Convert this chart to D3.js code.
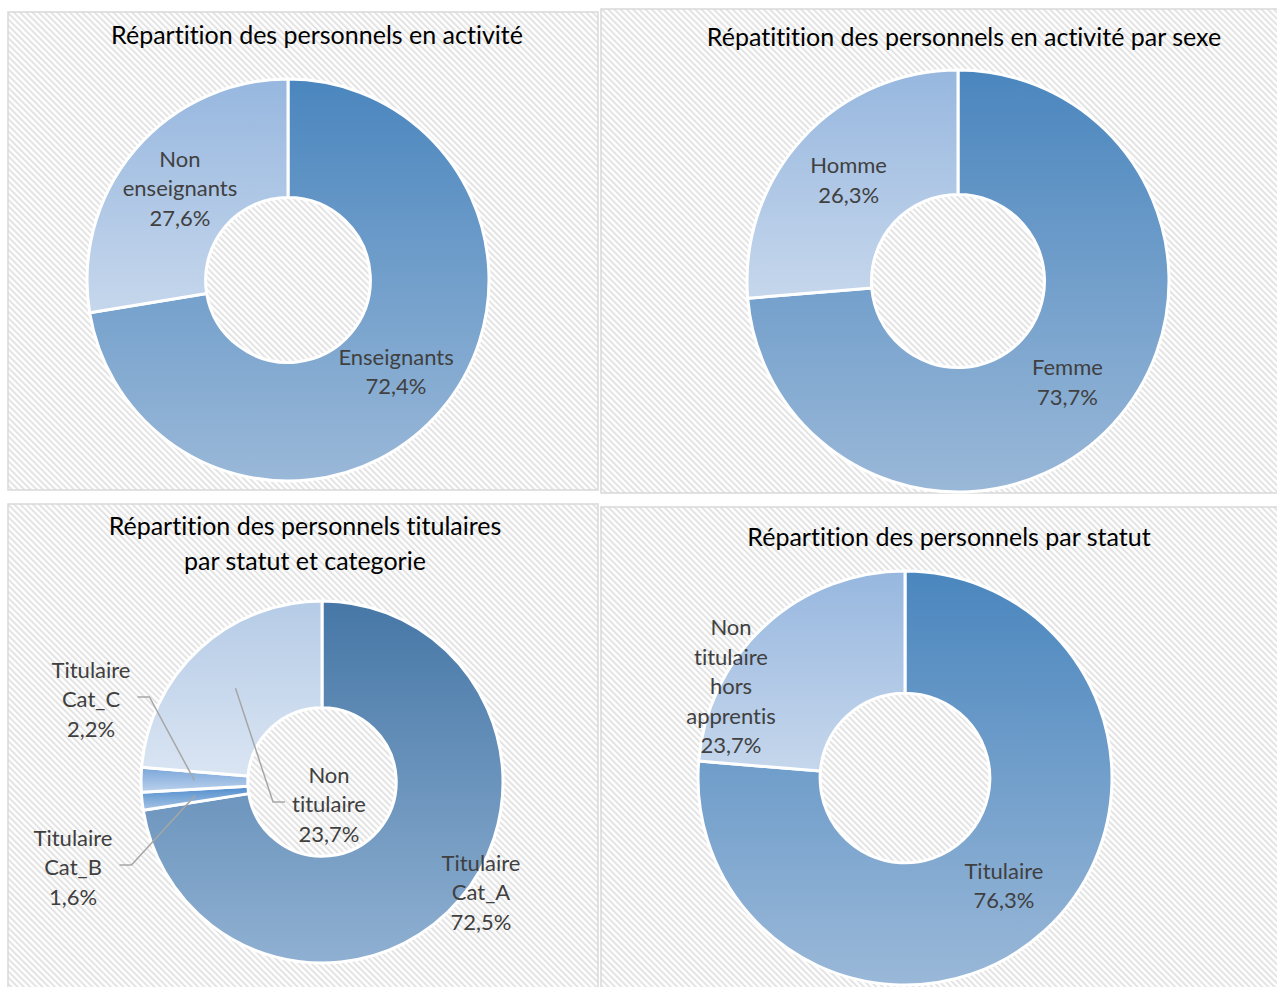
<!DOCTYPE html>
<html>
<head>
<meta charset="utf-8">
<script src="https://cdn.jsdelivr.net/npm/d3@7"></script>
<style>
  body { margin: 0; background: #fff; }
  svg { display: block; font-family: Lato, "Open Sans", sans-serif; font-variant-ligatures: none; }
</style>
</head>
<body>
<div id="chart"></div>
<script>
// Répartition des personnels - 4 donuts

// Data (percentages)
const activiteLabels = ["Enseignants", "Non enseignants"];
const activiteValues = [72.4, 27.6];

const sexeLabels = ["Femme", "Homme"];
const sexeValues = [73.7, 26.3];

const categorieLabels = ["Titulaire Cat_A", "Titulaire Cat_B", "Titulaire Cat_C", "Non titulaire"];
const categorieValues = [72.5, 1.6, 2.2, 23.7];

const statutLabels = ["Titulaire", "Non titulaire hors apprentis"];
const statutValues = [76.3, 23.7];

// Gradient colours (top, bottom) used for slices
const darkBlue = ["#4a86be", "#9ab8d8"];
const lightBlue = ["#97b7df", "#c6d7ec"];

const fr = d3.formatLocale({decimal: ",", thousands: " ", grouping: [3], currency: ["", " €"]});
const pct = v => fr.format(".1f")(v) + "%";

const width = 1277;
const height = 987;

// Layout of each panel
const charts = [
  {
    title: ["Répartition des personnels en activité"],
    labels: activiteLabels, values: activiteValues,
    box: [8, 12, 590, 478], titleX: 317, titleY: 44,
    cx: 288, cy: 280, r: 201,
    colors: [darkBlue, lightBlue]
  },
  {
    title: ["Répatitition des personnels en activité par sexe"],
    labels: sexeLabels, values: sexeValues,
    box: [601, 9, 680, 484], titleX: 964, titleY: 46,
    cx: 958, cy: 281, r: 211,
    colors: [darkBlue, lightBlue]
  },
  {
    title: ["Répartition des personnels titulaires", "par statut et categorie"],
    labels: categorieLabels, values: categorieValues,
    box: [8, 504, 590, 490], titleX: 305, titleY: 535,
    cx: 322, cy: 782, r: 181,
    colors: [["#4677a6", "#8fb0d2"], ["#4d8bcb", "#a9c6e6"], ["#79a5d9", "#bcd2ec"], ["#b5cbe6", "#dae5f3"]],
    // label offsets from donut centre (Excel "best fit" positions), with leader lines
    labelOffsets: [[159, 110], [-249, 85], [-231, -83], [7, 22]],
    leaders: [false, true, true, true]
  },
  {
    title: ["Répartition des personnels par statut"],
    labels: statutLabels, values: statutValues,
    box: [601, 507, 680, 490], titleX: 949, titleY: 546,
    cx: 905, cy: 778, r: 207,
    colors: [darkBlue, lightBlue],
    labelOffsets: [null, [-174, -92]]
  }
];

const svg = d3.select("#chart")
  .append("svg")
  .attr("width", width)
  .attr("height", height);

const defs = svg.append("defs");

// Diagonal hatch background
const pat = defs.append("pattern")
  .attr("id", "hatch")
  .attr("patternUnits", "userSpaceOnUse")
  .attr("width", 4.4)
  .attr("height", 4.4)
  .attr("patternTransform", "rotate(-45)");
pat.append("rect").attr("width", 4.4).attr("height", 4.4).attr("fill", "#ffffff");
pat.append("rect").attr("width", 2).attr("height", 4.4).attr("fill", "#e3e3e3");

const pie = d3.pie().sort(null).value(d => d.value);
const fontSize = 22;
const lineH = 29.5;

// simple word wrap on measured widths
const measurer = svg.append("text").attr("font-size", fontSize).attr("visibility", "hidden");
function textWidth(s) {
  measurer.text(s);
  return measurer.node().getComputedTextLength();
}
function wrap(s, maxW) {
  const words = s.split(" ");
  const lines = [];
  let cur = words[0];
  for (let i = 1; i < words.length; i++) {
    const test = cur + " " + words[i];
    if (textWidth(test) > maxW) { lines.push(cur); cur = words[i]; }
    else cur = test;
  }
  lines.push(cur);
  return lines;
}

charts.forEach((c, ci) => {
  const g = svg.append("g");

  // panel frame
  g.append("rect")
    .attr("x", c.box[0])
    .attr("y", c.box[1])
    .attr("width", c.box[2])
    .attr("height", c.box[3])
    .attr("fill", "url(#hatch)")
    .attr("stroke", "#d9d9d9")
    .attr("stroke-width", 1.5);

  // title
  g.selectAll("text.title")
    .data(c.title)
    .join("text")
      .attr("class", "title")
      .attr("x", c.titleX)
      .attr("y", (d, i) => c.titleY + i * 35)
      .attr("text-anchor", "middle")
      .attr("font-size", 25)
      .attr("fill", "#000")
      .text(d => d);

  const data = c.labels.map((l, i) => ({label: l, value: c.values[i], i: i}));
  const arcs = pie(data);
  const arc = d3.arc().innerRadius(c.r * 0.41).outerRadius(c.r);

  // gradients per slice
  c.colors.forEach((col, i) => {
    const lg = defs.append("linearGradient")
      .attr("id", "grad" + ci + "_" + i)
      .attr("x1", 0).attr("y1", 0).attr("x2", 0).attr("y2", 1);
    lg.append("stop").attr("offset", "0%").attr("stop-color", col[0]);
    lg.append("stop").attr("offset", "100%").attr("stop-color", col[1]);
  });

  const donut = g.append("g").attr("transform", `translate(${c.cx},${c.cy})`);

  donut.selectAll("path")
    .data(arcs)
    .join("path")
      .attr("d", arc)
      .attr("fill", d => `url(#grad${ci}_${d.index})`)
      .attr("stroke", "#fff")
      .attr("stroke-width", 3)
      .attr("stroke-linejoin", "round");

  // labels
  arcs.forEach(a => {
    const cen = arc.centroid(a);
    const off = c.labelOffsets && c.labelOffsets[a.index];
    const pos = off ? off : cen;
    const lines = wrap(a.data.label, 112).concat([pct(a.data.value)]);
    const y0 = pos[1] - (lines.length - 1) / 2 * lineH;

    const t = donut.append("text")
      .attr("text-anchor", "middle")
      .attr("font-size", fontSize)
      .attr("fill", "#404040");
    lines.forEach((s, k) => {
      t.append("tspan")
        .attr("x", pos[0])
        .attr("y", y0 + k * lineH + 8)
        .text(s);
    });

    if (c.leaders && c.leaders[a.index]) {
      const w = d3.max(lines, s => textWidth(s));
      const dir = cen[0] > pos[0] ? 1 : -1;
      const sx = pos[0] + dir * (w / 2 + 7);
      const sy = pos[1] - 2;
      donut.insert("path", "text")
        .attr("d", d3.line()([[sx, sy], [sx + dir * 12, sy], cen]))
        .attr("fill", "none")
        .attr("stroke", "#a6a6a6")
        .attr("stroke-width", 1.5);
    }
  });
});

measurer.remove();
</script>
</body>
</html>
